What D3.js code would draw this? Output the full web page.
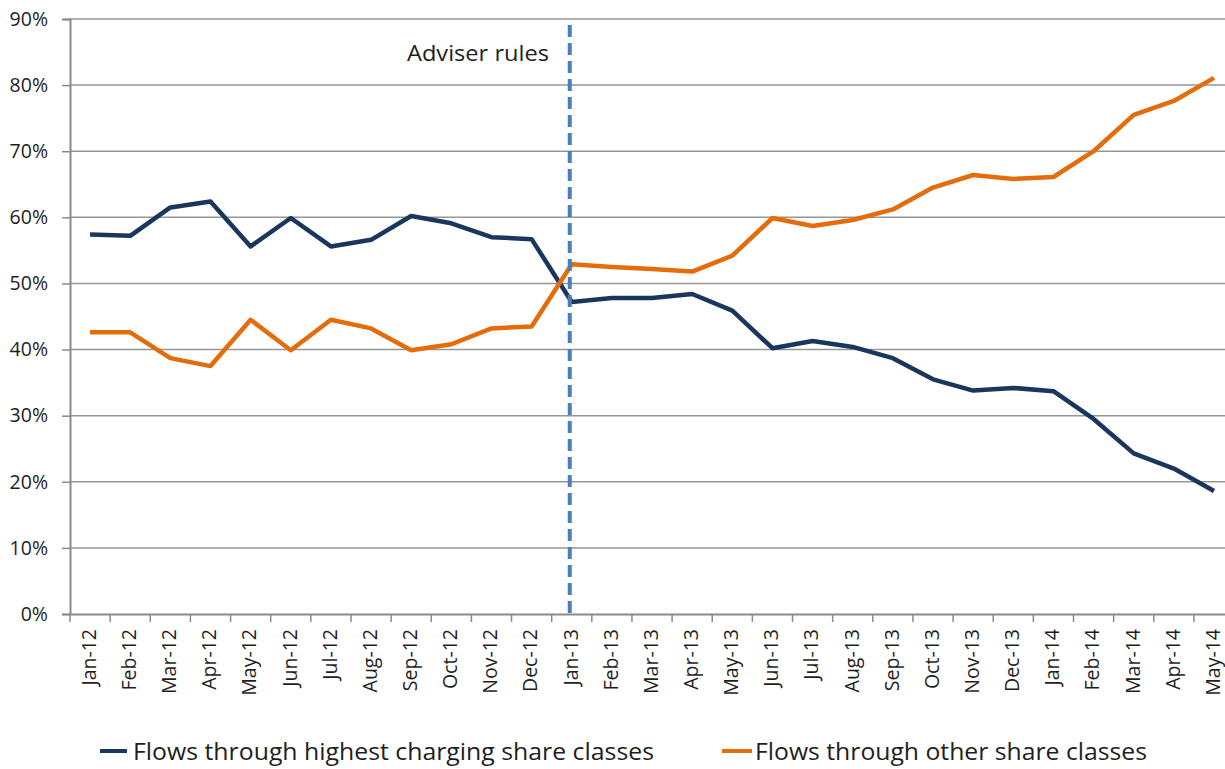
<!DOCTYPE html>
<html>
<head>
<meta charset="utf-8">
<script src="https://cdn.jsdelivr.net/npm/d3@7"></script>
<style>
  body { margin: 0; background: #fff; }
  svg { display: block; font-family: "Open Sans", "Noto Sans", sans-serif; }
  .axis path, .axis line { stroke: #8a8a8a; }
  .axis text { fill: #1e1e1e; font-family: "Open Sans", "Noto Sans", sans-serif; }
</style>
</head>
<body>
<svg width="1225" height="769"></svg>
<script>
'use strict';
// months on the x axis
var months = ["Jan-12","Feb-12","Mar-12","Apr-12","May-12","Jun-12","Jul-12","Aug-12","Sep-12","Oct-12","Nov-12","Dec-12",
  "Jan-13","Feb-13","Mar-13","Apr-13","May-13","Jun-13","Jul-13","Aug-13","Sep-13","Oct-13","Nov-13","Dec-13",
  "Jan-14","Feb-14","Mar-14","Apr-14","May-14"];

// share of flows, in %
var highestCharging = [57.4, 57.2, 61.5, 62.4, 55.6, 59.9, 55.6, 56.6, 60.2, 59.1, 57.0, 56.7,
  47.2, 47.8, 47.8, 48.4, 45.9, 40.2, 41.3, 40.4, 38.7, 35.5, 33.8, 34.2,
  33.7, 29.5, 24.3, 22.0, 18.6];
var otherClasses = [42.6, 42.6, 38.7, 37.5, 44.5, 39.9, 44.5, 43.2, 39.9, 40.8, 43.2, 43.5,
  52.9, 52.5, 52.2, 51.8, 54.2, 59.9, 58.7, 59.6, 61.2, 64.5, 66.4, 65.8,
  66.1, 70.0, 75.5, 77.6, 81.1];

var yTicks = [0, 10, 20, 30, 40, 50, 60, 70, 80, 90];
var markerMonth = "Jan-13";
var markerLabel = "Adviser rules";
var seriesNames = ["Flows through highest charging share classes", "Flows through other share classes"];
var colors = ["#1b365d", "#e46c0a"];

var svg = d3.select("svg"),
    margin = {top: 19, left: 70, bottom: 155};

var x = d3.scaleBand().domain(months).range([margin.left, margin.left + 29 * 40.14]),
    y = d3.scaleLinear().domain([0, 90]).range([614, 19]);

// gridlines
svg.append("g")
  .selectAll("line")
  .data(yTicks.slice(1))
  .enter().append("line")
    .attr("x1", margin.left).attr("x2", 1225)
    .attr("y1", function(d) { return y(d); })
    .attr("y2", function(d) { return y(d); })
    .attr("stroke", "#969696")
    .attr("stroke-width", 1.5);

// y axis
var yAxis = svg.append("g")
  .attr("class", "axis")
  .attr("transform", "translate(" + margin.left + ",0)")
  .call(d3.axisLeft(y).tickValues(yTicks).tickSize(8).tickFormat(function(d) { return d + "%"; }));
yAxis.select(".domain").attr("stroke-width", 2);
yAxis.selectAll("line").attr("stroke-width", 1.5);
yAxis.selectAll("text").attr("x", -22).style("font-size", "19.5px");

// x axis: labels at band centres, ticks at band edges
var xAxis = svg.append("g")
  .attr("class", "axis")
  .attr("transform", "translate(0," + y(0) + ")")
  .call(d3.axisBottom(x).tickSize(0).tickSizeOuter(0));
xAxis.select(".domain").attr("stroke-width", 2);
xAxis.selectAll("text")
  .style("font-size", "19.5px")
  .style("text-anchor", "end")
  .attr("transform", "rotate(-90)")
  .attr("x", -15)
  .attr("y", 0)
  .attr("dy", "0.3em");

xAxis.append("g")
  .selectAll("line")
  .data(d3.range(months.length + 1))
  .enter().append("line")
    .attr("x1", function(i) { return margin.left + i * x.step(); })
    .attr("x2", function(i) { return margin.left + i * x.step(); })
    .attr("y1", 0).attr("y2", 8)
    .attr("stroke", "#8a8a8a")
    .attr("stroke-width", 1.5);

// the two series
var line = d3.line()
  .x(function(d, i) { return x(months[i]) + x.bandwidth() / 2; })
  .y(function(d) { return y(d); });

[highestCharging, otherClasses].forEach(function(s, k) {
  svg.append("path")
    .datum(s)
    .attr("fill", "none")
    .attr("stroke", colors[k])
    .attr("stroke-width", 4.5)
    .attr("stroke-linejoin", "round")
    .attr("d", line);
});

// marker for the adviser rules
var mx = x(markerMonth) + x.bandwidth() / 2 - 2;
svg.append("line")
  .attr("x1", mx).attr("x2", mx)
  .attr("y1", 25).attr("y2", y(0))
  .attr("stroke", "#4a7ebb")
  .attr("stroke-width", 4)
  .attr("stroke-dasharray", "12,6");
svg.append("text")
  .attr("x", 407).attr("y", 61)
  .attr("textLength", 142)
  .attr("lengthAdjust", "spacingAndGlyphs")
  .style("font-size", "21px")
  .attr("fill", "#1e1e1e")
  .text(markerLabel);

// legend
var legendPos = [{x: 100, len: 27, tx: 133, tw: 521}, {x: 722, len: 30, tx: 755, tw: 392}];
legendPos.forEach(function(p, k) {
  svg.append("line")
    .attr("x1", p.x).attr("x2", p.x + p.len)
    .attr("y1", 751).attr("y2", 751)
    .attr("stroke", colors[k])
    .attr("stroke-width", 4);
  svg.append("text")
    .attr("x", p.tx).attr("y", 760)
    .attr("textLength", p.tw)
    .attr("lengthAdjust", "spacingAndGlyphs")
    .style("font-size", "23px")
    .attr("fill", "#1e1e1e")
    .text(seriesNames[k]);
});
</script>
</body>
</html>
